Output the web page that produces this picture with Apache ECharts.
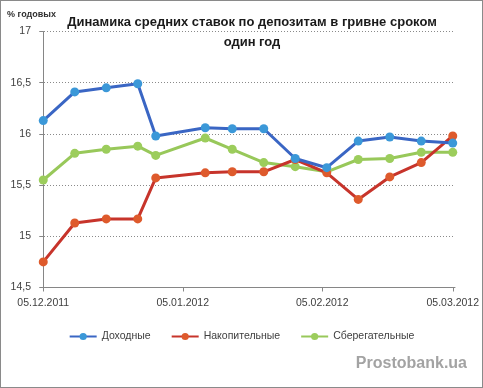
<!DOCTYPE html>
<html>
<head>
<meta charset="utf-8">
<script src="https://cdn.jsdelivr.net/npm/echarts@6/dist/echarts.min.js"></script>
<style>
html,body{margin:0;padding:0;background:#fff;}
#frame{position:absolute;left:0;top:0;width:483px;height:388px;box-sizing:border-box;border:1px solid #8a8a8a;}
#chart{position:absolute;left:0;top:0;width:483px;height:388px;}
</style>
</head>
<body>
<div id="chart"></div>
<div id="frame"></div>
<script>
const dates = ['2011-12-05','2011-12-12','2011-12-19','2011-12-26','2011-12-30','2012-01-10','2012-01-16','2012-01-23','2012-01-30','2012-02-06','2012-02-13','2012-02-20','2012-02-27','2012-03-05'];
const dokhodnye = [16.13,16.41,16.45,16.49,15.98,16.06,16.05,16.05,15.76,15.67,15.93,15.97,15.93,15.91];
const nakopitelnye = [14.75,15.13,15.17,15.17,15.57,15.62,15.63,15.63,15.75,15.62,15.36,15.58,15.72,15.98];
const sberegatelnye = [15.55,15.81,15.85,15.88,15.79,15.96,15.85,15.72,15.68,15.63,15.75,15.76,15.82,15.82];
const seriesNames = ['Доходные','Накопительные','Сберегательные'];
const tickDates = ['2011-12-05','2012-01-05','2012-02-05','2012-03-05'];
const yMin = 14.5, yMax = 17, yStep = 0.5;
const titleText = 'Динамика средних ставок по депозитам в гривне сроком\nодин год';
const unitText = '% годовых';
const watermark = 'Prostobank.ua';

const DAY = 24*3600*1000;
function ts(s){ const p = s.split('-').map(Number); return Date.UTC(p[0], p[1]-1, p[2]); }
const T0 = ts(tickDates[0]);
function dayOf(s){ return Math.round((ts(s) - T0)/DAY); }
function pad(n){ return (n<10?'0':'')+n; }
function fmtDay(v){ const d = new Date(T0 + Math.round(v)*DAY); return pad(d.getUTCDate())+'.'+pad(d.getUTCMonth()+1)+'.'+d.getUTCFullYear(); }
const FONT = 'Liberation Sans';

function mk(vals){ return dates.map((d,i)=>[dayOf(d), vals[i]]); }

const chart = echarts.init(document.getElementById('chart'), null, {renderer:'canvas'});
const lineCol = ['#3a66c4','#c7342b','#98c85a'];
const dotCol = ['#3b98d8','#de5a2c','#9ccd5c'];
const vals = [dokhodnye, nakopitelnye, sberegatelnye];
const tickDays = tickDates.map(dayOf);

chart.setOption({
  animation:false,
  textStyle:{fontFamily:FONT},
  grid:{left:41, top:31.5, right:28, bottom:100.5},
  xAxis:{
    type:'value',
    min: -0.5,
    max: tickDays[tickDays.length-1] + 0.5,
    axisLine:{show:true, onZero:false, lineStyle:{color:'#868686', width:1}},
    axisTick:{show:true, customValues: tickDays, length:4, lineStyle:{color:'#868686'}},
    axisLabel:{customValues: tickDays, formatter: fmtDay, color:'#404040', fontSize:10.5, margin:10, fontFamily:FONT},
    splitLine:{show:false}
  },
  yAxis:{
    type:'value', min:yMin, max:yMax, interval:yStep,
    axisLine:{show:true, lineStyle:{color:'#868686', width:1}},
    axisTick:{show:true, length:4, lineStyle:{color:'#868686'}},
    axisLabel:{color:'#404040', fontSize:10.5, margin:10, fontFamily:FONT, formatter: v => String(v).replace('.', ',')},
    splitLine:{show:true, lineStyle:{color:'#8a8a8a', type:[1,2], width:1}}
  },
  legend:{
    top:326, left:'center', itemGap:20, itemWidth:27, itemHeight:9,
    textStyle:{color:'#404040', fontSize:10.5, fontFamily:FONT},
    data: seriesNames
  },
  graphic:[
    {type:'text', x:252, y:32, style:{text:titleText, font:'bold 13px "Liberation Sans"', fill:'#1a1a1a', align:'center', verticalAlign:'middle', lineHeight:20}, z:10},
    {type:'text', x:7, y:15, style:{text:unitText, font:'bold 9px "Liberation Sans"', fill:'#303030', align:'left', verticalAlign:'middle'}},
    {type:'text', x:467, y:364, style:{text:watermark, font:'bold 16px "Liberation Sans"', fill:'#a3a3a3', align:'right', verticalAlign:'middle'}}
  ],
  series: seriesNames.map((n,i)=>({
    name:n, type:'line', data: mk(vals[i]),
    symbol:'circle', symbolSize:9, showAllSymbol:true,
    lineStyle:{color:lineCol[i], width:3},
    itemStyle:{color:dotCol[i]},
    z: 3 - i
  }))
});
</script>
</body>
</html>
